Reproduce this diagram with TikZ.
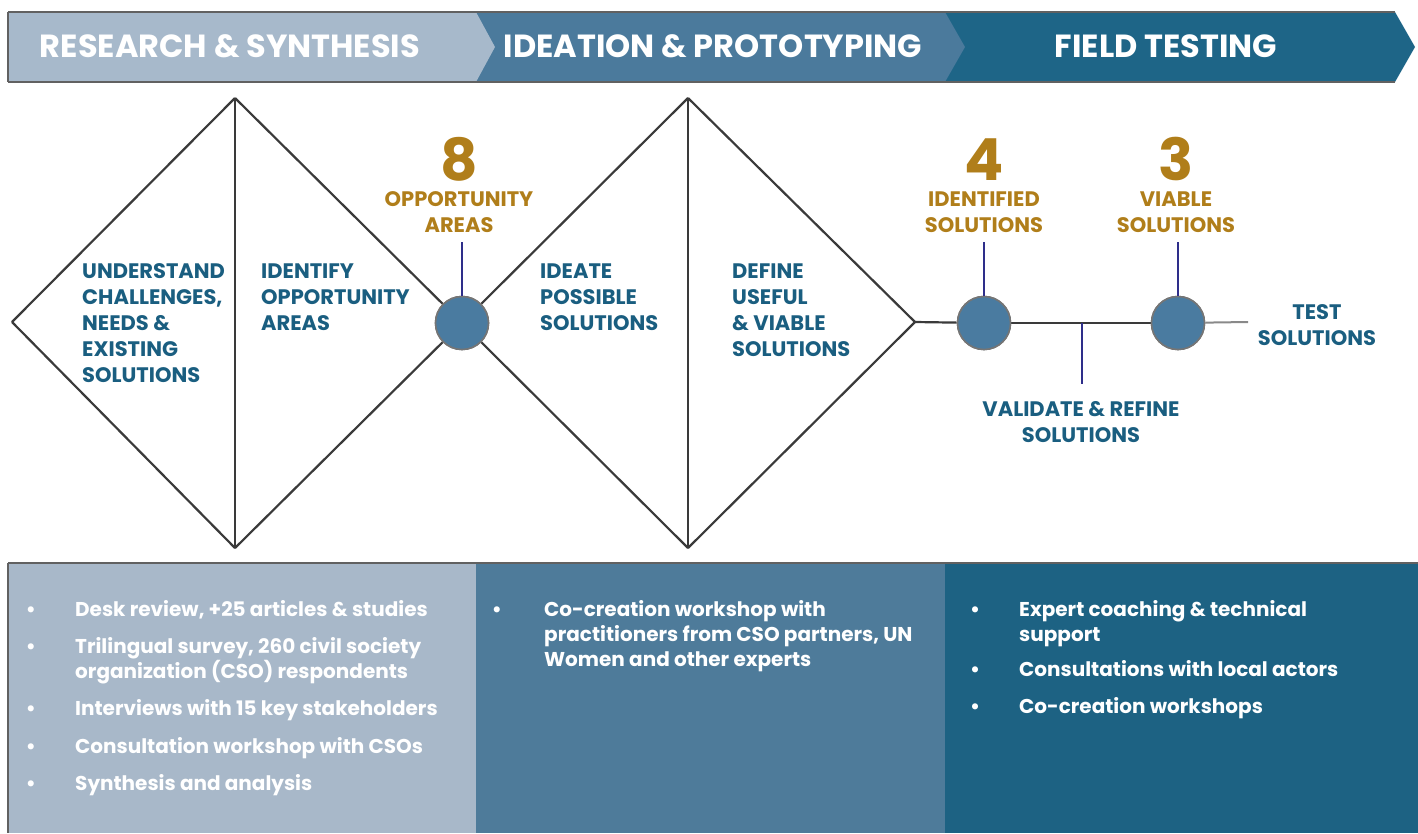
\documentclass[tikz,border=0pt]{standalone}
\usepackage{fontspec}
\setmainfont{Poppins}
\definecolor{hdrA}{HTML}{A7B9CB}
\definecolor{hdrB}{HTML}{4B7A9C}
\definecolor{hdrC}{HTML}{1E6587}
\definecolor{boxA}{HTML}{A8B8C9}
\definecolor{boxB}{HTML}{4E7B9A}
\definecolor{boxC}{HTML}{1D6283}
\definecolor{teal}{HTML}{1A5E80}
\definecolor{gold}{HTML}{B07E1A}
\definecolor{circ}{HTML}{4A7BA0}
\definecolor{conn}{HTML}{2E2E8A}
\definecolor{edge}{HTML}{3A3A3A}
\newcommand{\bignumtxt}[1]{{\fontsize{58}{60}\selectfont #1}}
\begin{document}
\begin{tikzpicture}[x=1pt,y=-1pt,
  hdrtext/.style={text=white,font=\fontsize{32}{36}\selectfont\bfseries,inner sep=0pt,anchor=base},
  stage/.style={text=teal,font=\fontsize{21}{26}\selectfont\bfseries,inner sep=0pt},
  count/.style={text=gold,font=\fontsize{21}{26}\selectfont\bfseries,inner sep=0pt,anchor=base},
  item/.style={text=white,font=\fontsize{20}{25}\selectfont\bfseries,inner sep=0pt,anchor=base west},
  bul/.style={text=white,font=\fontsize{20}{25}\selectfont\bfseries,inner sep=0pt,anchor=base},
  dline/.style={draw=edge,line width=2.2pt,line join=round},
  hub/.style={circle,fill=circ,draw=edge!70,line width=1.6pt,minimum size=53pt,inner sep=0pt},
  conn/.style={draw=conn,line width=1.1pt}]
\useasboundingbox (0,0) rectangle (1418,833);

% ---------- header band ----------
\fill[hdrC] (940,12) -- (1395,12) -- (1415,47) -- (1395,82) -- (940,82) -- cycle;
\fill[hdrB] (476,12) -- (945,12) -- (965,47) -- (945,82) -- (476,82) -- cycle;
\fill[hdrA] (8,12) -- (476,12) -- (495,47) -- (476,82) -- (8,82) -- cycle;
\draw[edge!80,line width=1.4pt] (8,12) -- (1395,12);
\draw[edge!80,line width=1.4pt] (8,82) -- (1395,82);
\draw[edge!80,line width=1.4pt] (8,12) -- (8,82);
\node[hdrtext] (h1) at (230,57) {RESEARCH \& SYNTHESIS};
\node[hdrtext] (h2) at (713,57) {IDEATION \& PROTOTYPING};
\node[hdrtext] (h3) at (1166,57) {FIELD TESTING};

% ---------- diamonds ----------
\coordinate (dL) at (12,322);
\coordinate (d1t) at (235,98);
\coordinate (d1b) at (235,548);
\coordinate (d2t) at (688,98);
\coordinate (d2b) at (688,548);
\coordinate (dR) at (915,322);
\coordinate (lineEnd) at (1248,322);
\node[hub] (c1) at (462,323) {};
\node[hub] (c2) at (984,323) {};
\node[hub] (c3) at (1178,323) {};
\draw[dline] (dL) -- (d1t);
\draw[dline] (dL) -- (d1b);
\draw[dline] (d1t) -- (c1);
\draw[dline] (d1b) -- (c1);
\draw[dline] (d1t) -- (d1b);
\draw[dline] (c1) -- (d2t);
\draw[dline] (c1) -- (d2b);
\draw[dline] (d2t) -- (dR) -- (d2b);
\draw[dline] (d2t) -- (d2b);
\draw[dline] (dR) -- (c2);
\draw[dline] (c2) -- (c3);
\draw[edge!60,line width=2pt] (c3) -- (lineEnd);
\node[hub] at (c1) {};
\node[hub] at (c2) {};
\node[hub] at (c3) {};

% ---------- stage labels ----------
\node[stage,anchor=base west] (s1) at (82,278) {\begin{tabular}[t]{@{}l@{}}UNDERSTAND\\CHALLENGES,\\NEEDS \&\\EXISTING\\SOLUTIONS\end{tabular}};
\node[stage,anchor=base west] (s2) at (261,278) {\begin{tabular}[t]{@{}l@{}}IDENTIFY\\OPPORTUNITY\\AREAS\end{tabular}};
\node[stage,anchor=base west] (s3) at (540,278) {\begin{tabular}[t]{@{}l@{}}IDEATE\\POSSIBLE\\SOLUTIONS\end{tabular}};
\node[stage,anchor=base west] (s4) at (732,278) {\begin{tabular}[t]{@{}l@{}}DEFINE\\USEFUL\\\& VIABLE\\SOLUTIONS\end{tabular}};
\node[stage,anchor=base] (s5) at (1317,319) {\begin{tabular}[t]{@{}c@{}}TEST\\SOLUTIONS\end{tabular}};
\node[stage,anchor=base] (s6) at (1081,416) {\begin{tabular}[t]{@{}c@{}}VALIDATE \& REFINE\\SOLUTIONS\end{tabular}};

% ---------- counts ----------
\node[count] (k1) at (459,180) {\begin{tabular}[t]{@{}c@{}}\bignumtxt{8}\\OPPORTUNITY\\AREAS\end{tabular}};
\node[count] (k2) at (984,180) {\begin{tabular}[t]{@{}c@{}}\bignumtxt{4}\\IDENTIFIED\\SOLUTIONS\end{tabular}};
\node[count] (k3) at (1176,180) {\begin{tabular}[t]{@{}c@{}}\bignumtxt{3}\\VIABLE\\SOLUTIONS\end{tabular}};

% ---------- connectors ----------
\coordinate (vpt) at (1082,323);
\draw[conn] (k1.south -| c1) ++(0,2) -- (c1.north);
\draw[conn] (k2.south -| c2) ++(0,2) -- (c2.north);
\draw[conn] (k3.south -| c3) ++(0,2) -- (c3.north);
\draw[conn,shorten >=14pt] (vpt) -- (vpt |- s6.north);

% ---------- bottom boxes ----------
\fill[boxA] (8,563) rectangle (476,833);
\fill[boxB] (476,563) rectangle (945,833);
\fill[boxC] (945,563) rectangle (1418,833);
\draw[edge!80,line width=1.6pt] (8,563) -- (1418,563);
\draw[edge!80,line width=1.4pt] (8,563) -- (8,833);

\node[bul] (b1) at (31,616) {•};
\node[item] (t1) at (75,616) {Desk review, +25 articles \& studies};
\node[bul] (b2) at (31,653) {•};
\node[item] (t2) at (75,653) {\begin{tabular}[t]{@{}l@{}}Trilingual survey, 260 civil society\\organization (CSO) respondents\end{tabular}};
\node[bul] (b3) at (31,715) {•};
\node[item] (t3) at (75,715) {Interviews with 15 key stakeholders};
\node[bul] (b4) at (31,753) {•};
\node[item] (t4) at (75,753) {Consultation workshop with CSOs};
\node[bul] (b5) at (31,790) {•};
\node[item] (t5) at (75,790) {Synthesis and analysis};

\node[bul] (b6) at (497,616) {•};
\node[item] (t6) at (544,616) {\begin{tabular}[t]{@{}l@{}}Co-creation workshop with\\practitioners from CSO partners, UN\\Women and other experts\end{tabular}};

\node[bul] (b7) at (975,616) {•};
\node[item] (t7) at (1019,616) {\begin{tabular}[t]{@{}l@{}}Expert coaching \& technical\\support\end{tabular}};
\node[bul] (b8) at (975,676) {•};
\node[item] (t8) at (1019,676) {Consultations with local actors};
\node[bul] (b9) at (975,713) {•};
\node[item] (t9) at (1019,713) {Co-creation workshops};
\end{tikzpicture}
\end{document}
